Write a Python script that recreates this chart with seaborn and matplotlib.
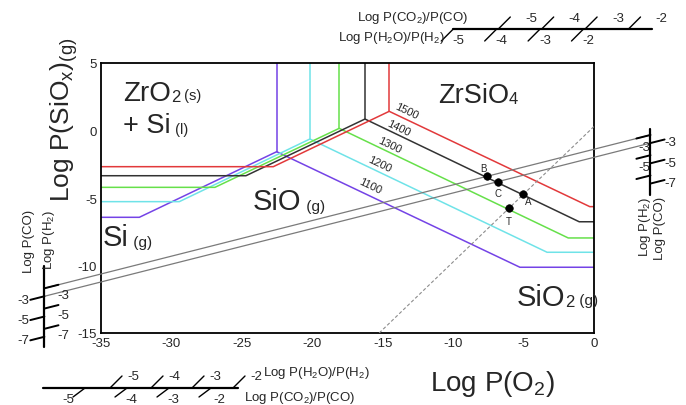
import matplotlib
matplotlib.use("Agg")
import matplotlib.pyplot as plt
from matplotlib.lines import Line2D
import pandas as pd
import seaborn as sns

# Predominance boundaries for each temperature (degC)
temperatures = [1100, 1200, 1300, 1400, 1500]
si_floor_y = [-6.43, -5.27, -4.21, -3.35, -2.68]
si_break_x = [-32.28, -29.44, -26.91, -24.71, -22.77]
triple_x = [-22.53, -20.17, -18.09, -16.26, -14.54]
triple_y = [-1.57, -0.63, 0.16, 0.85, 1.42]
sio2_break_x = [-5.26, -3.33, -1.83, -1.05, -0.30]
sio2_floor_y = [-10.13, -9.02, -7.96, -6.76, -5.64]
line_colors = ["#7443e6", "#6fe3e8", "#66e04a", "#333333", "#e2393b"]

# Temperature labels along the ZrSiO4 / SiO boundaries
temp_label_x = [-15.91, -15.20, -14.54, -13.90, -13.30]
temp_label_y = [-4.04, -2.48, -1.07, 0.24, 1.47]

# Gas buffer lines running between the two side scales
gas_x = [-39.02, 4.01]
h2_line_y = [-11.69, -0.33]
co_line_y = [-12.28, -0.93]

# Dashed line through A and T
dash_x = [-15.25, 0.0]
dash_y = [-15.0, 0.30]

point_names = ["B", "C", "A", "T"]
point_x = [-7.63, -6.80, -5.03, -6.02]
point_y = [-3.39, -3.84, -4.70, -5.76]

x_ticks = [-35, -30, -25, -20, -15, -10, -5, 0]
y_ticks = [-15, -10, -5, 0, 5]

side_ticks = [-3, -5, -7]
right_h2_labels = ["-3", "-5", ""]
ratio_ticks = [-5, -4, -3, -2]

sns.set_style("white")
plt.rcParams["font.family"] = ["Liberation Sans", "DejaVu Sans"]
plt.rcParams["mathtext.default"] = "regular"
plt.rcParams["axes.unicode_minus"] = False

W, H = 686, 406
fig = plt.figure(figsize=(W / 100, H / 100), dpi=100)
fig.patch.set_facecolor("white")
ax = fig.add_axes([101 / W, 1 - 334 / H, 493 / W, 270 / H])
XMIN, XMAX, YMIN, YMAX = -35, 0, -15, 5


def fxy(px, py):
    return px / W, 1 - py / H


def fig_line(xs, ys, lw=1.0, color="black"):
    fig.add_artist(Line2D([x / W for x in xs], [1 - y / H for y in ys],
                          transform=fig.transFigure, color=color, lw=lw))


# ---- temperature boundaries -------------------------------------------
rows = []
for t, yl, xb, xc, yc, xr, yr in zip(temperatures, si_floor_y, si_break_x,
                                     triple_x, triple_y, sio2_break_x, sio2_floor_y):
    for x, y in zip([XMIN, xb, xc, xr, XMAX], [yl, yl, yc, yr, yr]):
        rows.append({"T": t, "seg": "floor", "x": x, "y": y})
    for x, y in zip([xc, xc], [yc, YMAX]):
        rows.append({"T": t, "seg": "wall", "x": x, "y": y})
bounds = pd.DataFrame(rows)
sns.lineplot(data=bounds, x="x", y="y", hue="T", units="seg", estimator=None,
             sort=False, palette=dict(zip(temperatures, line_colors)),
             legend=False, lw=1.1, ax=ax)

for t, x, y in zip(temperatures, temp_label_x, temp_label_y):
    ax.text(x, y, str(t), fontsize=8, rotation=-25.6, ha="center", va="center",
            rotation_mode="anchor")

# ---- gas lines, dashed line and points ---------------------------------
ax.plot(gas_x, h2_line_y, color="#7a7a7a", lw=0.9, clip_on=False, zorder=3)
ax.plot(gas_x, co_line_y, color="#7a7a7a", lw=0.9, clip_on=False, zorder=3)
ax.plot(dash_x, dash_y, color="#8c8c8c", lw=0.8, ls=(0, (3, 2)), zorder=3)

sns.scatterplot(x=point_x, y=point_y, color="black", edgecolor="black", s=30,
                ax=ax, zorder=5, legend=False)
point_offsets = [(-3, 8), (0, -11), (5, -7), (0, -13)]
for name, x, y, off in zip(point_names, point_x, point_y, point_offsets):
    ax.annotate(name, xy=(x, y), xytext=off, textcoords="offset pixels",
                fontsize=7, ha="center", va="center")

# ---- axes ---------------------------------------------------------------
ax.set_xlim(XMIN, XMAX)
ax.set_ylim(YMIN, YMAX)
ax.set_xticks(x_ticks)
ax.set_yticks(y_ticks)
ax.tick_params(length=0, labelsize=9.5, pad=3)
ax.set_xlabel("")
ax.set_ylabel("")
for sp in ax.spines.values():
    sp.set_visible(True)
    sp.set_color("black")
    sp.set_linewidth(1.3)

fig.text(*fxy(492, 384), "Log P(O$_2$)", fontsize=20, ha="center", va="center")
fig.text(*fxy(64, 120), "Log P(SiO$_x$)$_{(g)}$", fontsize=19, rotation=90,
         ha="center", va="center")


# ---- phase field labels -------------------------------------------------
def chem_label(px, py, parts):
    prev = ax.text(*fxy(px, py), parts[0][0], transform=fig.transFigure,
                   fontsize=parts[0][1], ha="left", va="baseline")
    for text, size in parts[1:]:
        prev = ax.annotate(text, xy=(1, 0), xycoords=prev, xytext=(0, 2),
                           textcoords="offset pixels", fontsize=size,
                           ha="left", va="bottom", annotation_clip=False)


chem_label(123, 101, [("ZrO", 20), ("2", 12), (" (s)", 10.5)])
chem_label(123, 133, [("+ Si", 19.5), (" (l)", 10.5)])
chem_label(253, 210, [("SiO", 21), (" (g)", 11)])
chem_label(103, 246, [("Si", 21), (" (g)", 11)])
chem_label(438, 103, [("ZrSiO", 19.5), ("4", 12)])
chem_label(517, 306, [("SiO", 21), ("2", 12), (" (g)", 11)])

# ---- side scales (share the vertical data axis) -------------------------
step = 0.75
tdx, tdy = 1.0, 0.264
kw = dict(color="black", clip_on=False, zorder=4)

# left: log P(CO) on the left, log P(H2) on the right
x0 = gas_x[0]
ax.plot([x0, x0], [-10.04, -16.04], lw=1.6, **kw)
for v in side_ticks:
    y = co_line_y[0] + (v + 3) * step
    ax.plot([x0 - tdx, x0], [y - tdy, y], lw=1.4, **kw)
    ax.annotate(str(v), xy=(x0 - tdx, y - tdy), xytext=(-1, 0),
                textcoords="offset pixels", ha="right", va="center",
                fontsize=9.5, annotation_clip=False)
    y = h2_line_y[0] + (v + 3) * step
    ax.plot([x0, x0 + tdx], [y, y + tdy], lw=1.4, **kw)
    ax.annotate(str(v), xy=(x0 + tdx, y + tdy), xytext=(-1, -4),
                textcoords="offset pixels", ha="left", va="top",
                fontsize=9.5, annotation_clip=False)

# right: log P(H2) on the left, log P(CO) on the right
x1 = gas_x[1]
ax.plot([x1, x1], [0.11, -4.78], lw=1.6, **kw)
for v, lab in zip(side_ticks, right_h2_labels):
    y = h2_line_y[1] + (v + 3) * step
    ax.plot([x1 - tdx, x1], [y - tdy, y], lw=1.4, **kw)
    ax.annotate(lab, xy=(x1 - tdx, y - tdy), xytext=(2, -2),
                textcoords="offset pixels", ha="left", va="top",
                fontsize=9.5, annotation_clip=False)
    y = co_line_y[1] + (v + 3) * step
    ax.plot([x1, x1 + tdx], [y, y + tdy], lw=1.4, **kw)
    ax.annotate(str(v), xy=(x1 + tdx, y + tdy), xytext=(0, -3),
                textcoords="offset pixels", ha="left", va="center",
                fontsize=9.5, annotation_clip=False)

fig.text(*fxy(29, 210), "Log P(CO)", fontsize=9.5, rotation=90, ha="center", va="top")
fig.text(*fxy(49, 210), "Log P(H$_2$)", fontsize=9.5, rotation=90, ha="center", va="top")
fig.text(*fxy(645, 197), "Log P(H$_2$)", fontsize=9.5, rotation=90, ha="center", va="top")
fig.text(*fxy(660, 197), "Log P(CO)", fontsize=9.5, rotation=90, ha="center", va="top")

# ---- top ratio scale ----------------------------------------------------
fig_line([453, 652], [30, 30], lw=1.6)
for v in ratio_ticks:
    xc = 453.3 + (v + 5) * 43.4          # log P(H2O)/P(H2), below the bar
    fig_line([xc - 12, xc], [42, 30])
    fig.text(*fxy(xc + 5, 41), str(v), fontsize=9.5, ha="center", va="center")
    xc = 498.3 + (v + 5) * 43.4          # log P(CO2)/P(CO), above the bar
    fig_line([xc, xc + 12], [30, 18])
    fig.text(*fxy(xc + 33, 19), str(v), fontsize=9.5, ha="center", va="center")
fig.text(*fxy(468, 18), "Log P(CO$_2$)/P(CO)", fontsize=9.5, ha="right", va="center")
fig.text(*fxy(445, 38), "Log P(H$_2$O)/P(H$_2$)", fontsize=9.5, ha="right", va="center")

# ---- bottom ratio scale -------------------------------------------------
fig_line([43, 238], [389, 389], lw=1.6)
low_label_dx = [-17, 4, 4, 8]
for v, ldx in zip(ratio_ticks, low_label_dx):
    xc = 110 + (v + 5) * 41.0            # log P(H2O)/P(H2), above the bar
    fig_line([xc, xc + 12], [389, 377])
    fig.text(*fxy(xc + 23, 377), str(v), fontsize=9.5, ha="center", va="center")
    xc = 85 + (v + 5) * 42.0             # log P(CO2)/P(CO), below the bar
    fig_line([xc - 12, xc], [398, 389])
    fig.text(*fxy(xc + ldx, 400), str(v), fontsize=9.5, ha="center", va="center")
fig.text(*fxy(263, 373), "Log P(H$_2$O)/P(H$_2$)", fontsize=9.5, ha="left", va="center")
fig.text(*fxy(244, 398), "Log P(CO$_2$)/P(CO)", fontsize=9.5, ha="left", va="center")

fig.savefig("out.png", dpi=100, facecolor="white")
